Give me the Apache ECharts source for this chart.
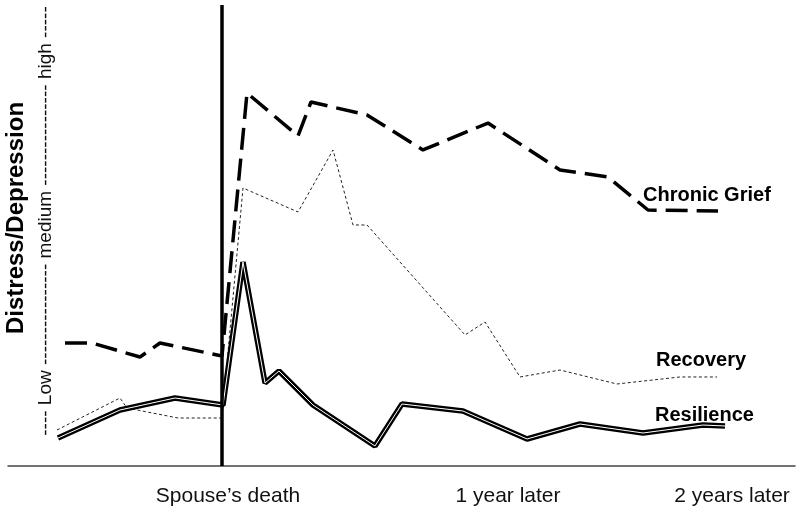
<!DOCTYPE html>
<html>
<head>
<meta charset="utf-8">
<script src="https://cdn.jsdelivr.net/npm/echarts@6/dist/echarts.min.js"></script>
<style>
  html, body { margin: 0; padding: 0; background: #fff; }
  #chart { width: 800px; height: 515px; }
</style>
</head>
<body>
<div id="chart"></div>
<script>
// Time axis in arbitrary units (0..100), distress level 0..100
var deathTime = 27.19;
var tickLabels = ['Spouse\u2019s death', '1 year later', '2 years later'];
var tickPositions = [27.95, 63.53, 92.0];

var chronicGrief = [
  [7.24, 26.68], [10.67, 26.68], [16.77, 23.64], [19.31, 26.68], [27.19, 23.86],
  [30.37, 80.91], [36.85, 71.58], [38.50, 78.96], [45.62, 76.14], [52.73, 68.55],
  [60.99, 74.40], [70.14, 64.21], [76.24, 62.69], [81.32, 55.53], [90.22, 55.31]
];
var recovery = [
  [6.23, 7.81], [14.23, 14.75], [15.12, 12.58], [21.60, 10.41], [27.19, 10.41],
  [29.86, 60.30], [36.85, 55.10], [41.30, 68.55], [43.84, 52.28], [45.62, 52.28],
  [58.07, 28.42], [60.61, 31.24], [65.06, 19.31], [70.14, 20.82], [77.38, 17.79],
  [85.39, 19.31], [90.09, 19.31]
];
var resilience = [
  [6.35, 6.07], [14.23, 12.15], [21.22, 14.75], [27.32, 13.23], [29.86, 44.25],
  [32.66, 18.00], [34.43, 20.61], [38.75, 13.23], [46.63, 4.34], [50.06, 13.45],
  [57.81, 11.93], [65.95, 5.86], [72.68, 9.11], [80.69, 7.16], [88.31, 8.89],
  [91.11, 8.68]
];
var seriesNames = ['Chronic Grief', 'Recovery', 'Resilience'];
var yAxisTitle = 'Distress/Depression';
var yScaleText = '---- Low ---------------- medium ---------------- high -----';

var chart = echarts.init(document.getElementById('chart'), null, { renderer: 'canvas' });
var option = {
  animation: false,
  backgroundColor: '#fff',
  grid: { left: 8, right: 5, top: 5, bottom: 49 },
  xAxis: {
    type: 'value', min: 0, max: 100,
    axisLine: { show: true, lineStyle: { color: '#444', width: 1.5 } },
    axisTick: { show: false },
    splitLine: { show: false },
    axisLabel: {
      customValues: tickPositions,
      margin: 20,
      fontFamily: 'Liberation Sans, Arial, sans-serif',
      fontSize: 21,
      color: '#111',
      formatter: function (v) {
        var i = tickPositions.indexOf(v);
        return i >= 0 ? tickLabels[i] : '';
      }
    }
  },
  yAxis: {
    type: 'value', min: 0, max: 100, show: false,
    splitLine: { show: false }
  },
  series: [
    {
      name: seriesNames[0], type: 'line', data: chronicGrief, symbol: 'none',
      lineStyle: { color: '#000', width: 3.5, type: [22, 9] },
      markLine: {
        silent: true, symbol: ['none', 'none'], label: { show: false },
        lineStyle: { color: '#000', width: 3.5, type: 'solid' },
        data: [{ xAxis: deathTime }]
      }
    },
    {
      name: seriesNames[1], type: 'line', data: recovery, symbol: 'none',
      lineStyle: { color: '#222', width: 1, type: [3, 2.5] }
    },
    {
      name: seriesNames[2], type: 'line', data: resilience, symbol: 'none',
      lineStyle: { color: '#000', width: 5.5 }
    },
    {
      name: seriesNames[2] + ' inner', type: 'line', data: resilience, symbol: 'none',
      lineStyle: { color: '#fff', width: 1 }
    }
  ],
  graphic: [
    { type: 'text', x: 16, y: 218, rotation: Math.PI / 2,
      style: { text: yAxisTitle, font: 'bold 24px "Liberation Sans", Arial, sans-serif',
               fill: '#000', textAlign: 'center', textVerticalAlign: 'middle' } },
    { type: 'text', x: 46, y: 221, rotation: Math.PI / 2,
      style: { text: yScaleText, font: '19px "Liberation Sans", Arial, sans-serif',
               fill: '#111', textAlign: 'center', textVerticalAlign: 'middle' } },
    { type: 'text', x: 643, y: 195,
      style: { text: seriesNames[0], font: 'bold 20px "Liberation Sans", Arial, sans-serif',
               fill: '#000', textAlign: 'left', textVerticalAlign: 'middle' } },
    { type: 'text', x: 656, y: 360,
      style: { text: seriesNames[1], font: 'bold 20px "Liberation Sans", Arial, sans-serif',
               fill: '#000', textAlign: 'left', textVerticalAlign: 'middle' } },
    { type: 'text', x: 655, y: 415,
      style: { text: seriesNames[2], font: 'bold 20px "Liberation Sans", Arial, sans-serif',
               fill: '#000', textAlign: 'left', textVerticalAlign: 'middle' } }
  ]
};
chart.setOption(option);
</script>
</body>
</html>
